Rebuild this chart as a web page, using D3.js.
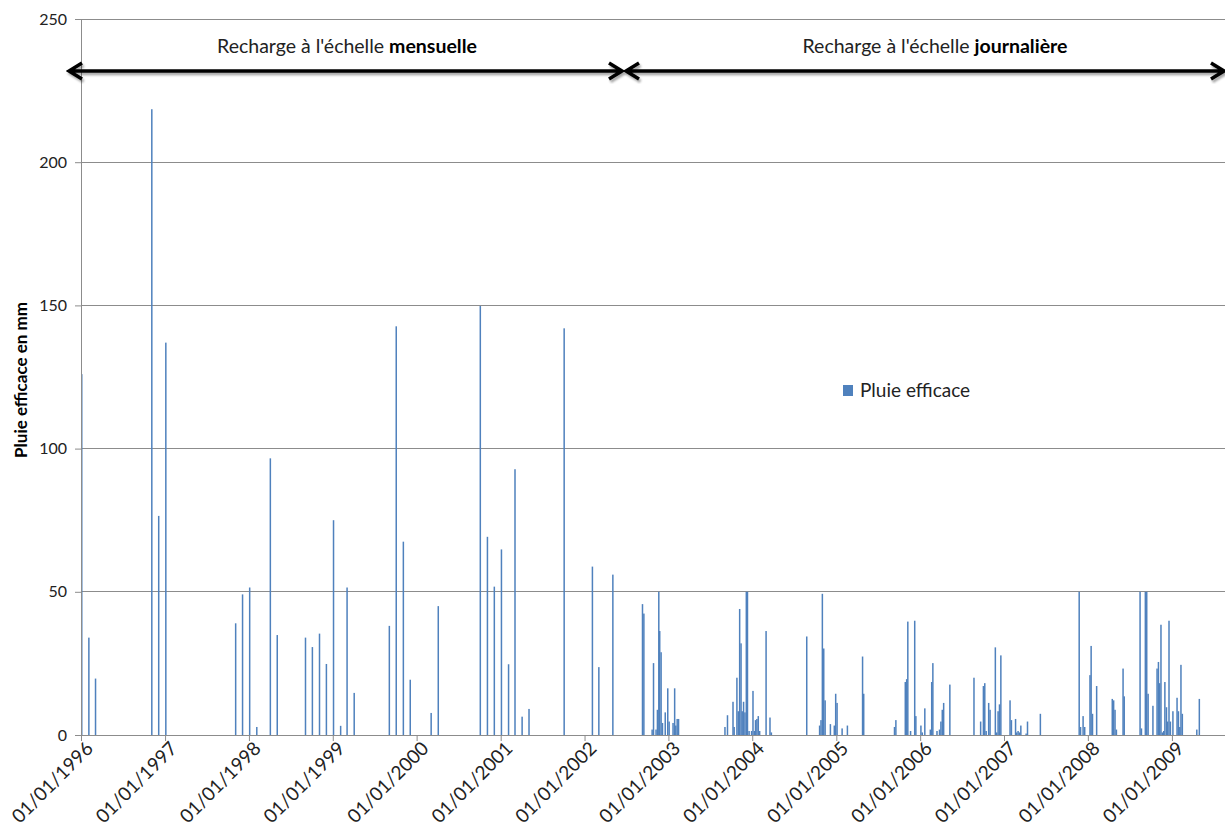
<!DOCTYPE html>
<html><head><meta charset="utf-8">
<script src="https://cdn.jsdelivr.net/npm/d3@7/dist/d3.min.js"></script>
<style>
html,body{margin:0;padding:0;background:#fff;}
svg{display:block;font-family:Lato,"Open Sans",sans-serif;}
</style></head><body>
<svg id="chart" width="1225" height="826"></svg>
<script>
// ---- DATA ----
const monthlyDates = ["1996-01-01","1996-02-01","1996-03-01","1996-11-01","1996-12-01","1997-01-01",
  "1997-11-01","1997-12-01","1998-01-01","1998-02-01","1998-04-01","1998-05-01",
  "1998-09-01","1998-10-01","1998-11-01","1998-12-01","1999-01-01","1999-02-01","1999-03-01","1999-04-01",
  "1999-09-01","1999-10-01","1999-11-01","1999-12-01","2000-03-01","2000-04-01",
  "2000-10-01","2000-11-01","2000-12-01","2001-01-01","2001-02-01","2001-03-01","2001-04-01","2001-05-01",
  "2001-10-01","2002-02-01","2002-03-01","2002-05-01"];
const monthlyValues = [126,34,19.7,218.5,76.5,137,
  39,49.1,51.5,2.8,96.6,34.9,
  34,30.7,35.4,24.8,75,3.2,51.5,14.7,
  38.1,142.7,67.5,19.3,7.7,45,
  149.8,69.2,51.8,64.8,24.7,92.8,6.4,9.1,
  142,58.8,23.7,56];

const dailyDates = [
  "2002-09-07","2002-09-13","2002-10-19","2002-10-25","2002-11-05","2002-11-11","2002-11-17","2002-11-21","2002-11-27","2002-12-03","2002-12-15","2002-12-26","2003-01-01","2003-01-18","2003-01-25","2003-01-30","2003-02-05","2003-02-11",
  "2003-09-01","2003-09-12","2003-10-06","2003-10-11","2003-10-23","2003-10-29","2003-11-04","2003-11-10","2003-11-15","2003-11-21","2003-11-27","2003-12-03","2003-12-08","2003-12-15","2003-12-26","2004-01-01","2004-01-07","2004-01-12","2004-01-18","2004-01-24","2004-01-30","2004-02-27","2004-03-15","2004-03-21",
  "2004-08-22","2004-10-17","2004-10-23","2004-10-29","2004-11-04","2004-11-10","2004-12-03","2004-12-20","2004-12-26","2005-01-01","2005-01-23","2005-02-15","2005-04-22","2005-04-27",
  "2005-09-08","2005-09-14","2005-10-25","2005-10-31","2005-11-05","2005-11-17","2005-12-05","2005-12-10","2006-01-01","2006-01-07","2006-01-18","2006-02-11","2006-02-17","2006-02-22","2006-03-12","2006-03-23","2006-03-29","2006-04-04","2006-04-10","2006-05-07",
  "2006-08-20","2006-09-18","2006-09-30","2006-10-06","2006-10-12","2006-10-23","2006-10-29","2006-11-21","2006-11-27","2006-12-03","2006-12-09","2006-12-15","2007-01-24","2007-01-30","2007-02-17","2007-02-22","2007-02-28","2007-03-06","2007-03-12","2007-04-04","2007-04-10","2007-06-05",
  "2007-11-21","2007-11-27","2007-12-08","2007-12-15","2008-01-07","2008-01-12","2008-01-18","2008-02-05","2008-04-13","2008-04-19","2008-04-25","2008-05-01","2008-05-30","2008-06-04","2008-08-12","2008-08-18","2008-09-04","2008-09-10","2008-09-16",
  "2008-10-07","2008-10-25","2008-10-31","2008-11-05","2008-11-11","2008-11-17","2008-11-23","2008-11-28","2008-12-05","2008-12-10","2008-12-16","2008-12-22","2009-01-02","2009-01-20","2009-01-26","2009-02-01","2009-02-06","2009-02-12","2009-04-16","2009-04-27"];
const dailyValues = [
  45.7,42.4,1.9,25.1,1.9,8.8,50,36.3,28.9,4.2,7.9,16.3,4.7,4.2,16.3,3.3,5.6,5.6,
  2.8,6.9,11.6,2.8,20,8.3,44,32,8.3,11.6,7.9,50,50,1.4,1.4,15.4,1.4,5.2,5.6,6.6,1.4,36.3,6.1,0.9,
  34.4,3.3,5.2,49.3,30.2,12.1,3.8,3.3,14.4,11.2,2.3,3.3,27.4,14.4,
  2.8,5.2,18.5,19.5,39.6,1.4,39.9,6.6,3.3,0.9,9.3,1.9,18.5,25.1,1.4,1.9,4.7,8.8,11.2,17.6,
  20,4.7,17.1,18.1,1.4,11.2,8.8,30.6,0.9,8.3,10.7,27.8,12.1,5.2,5.6,0.9,1.4,0.9,3.3,0.5,4.7,7.4,
  50,2.8,6.6,2.8,20.9,31.1,7.4,17.1,12.6,12.1,8.8,1.9,23.2,13.5,50,2.3,50,50,14.4,
  10.2,23.2,25.5,18.1,38.5,0.9,1.4,18.5,9.7,4.7,39.9,4.7,8.3,13,8.3,2.8,24.5,7.4,1.9,12.6];

const yTicks = [0,50,100,150,200,250];
const xTickYears = [1996,1997,1998,1999,2000,2001,2002,2003,2004,2005,2006,2007,2008,2009];
const seriesName = "Pluie efficace";
const yTitle = "Pluie efficace en mm";
const periods = [
  {start:"1996-01-01", end:"2002-07-01", label:"Recharge à l'échelle ", bold:"mensuelle"},
  {start:"2002-07-01", end:"2009-08-20", label:"Recharge à l'échelle ", bold:"journalière"}
];

// ---- CHART ----
const parse = d3.utcParse("%Y-%m-%d");
const fmt = d3.utcFormat("%d/%m/%Y");
const svg = d3.select("#chart");
const L = 81, R = 1225, T = 19, B = 735;
const x = d3.scaleUtc().domain([parse("1996-01-01"), parse("2009-08-20")]).range([L, R]);
const y = d3.scaleLinear().domain([0, 250]).range([B, T]);
const gridColor = "#8c8c8c";
const barColor = "#4F81BD";

// gridlines
svg.append("g").selectAll("line").data(yTicks.filter(d => d > 0)).join("line")
  .attr("x1", L).attr("x2", R).attr("y1", d => y(d)).attr("y2", d => y(d))
  .attr("stroke", gridColor).attr("stroke-width", 1).attr("shape-rendering","crispEdges");

// bars
const allBars = monthlyDates.map((d,i)=>({date:parse(d), v:monthlyValues[i]}))
  .concat(dailyDates.map((d,i)=>({date:parse(d), v:dailyValues[i]})));
svg.append("g").selectAll("rect").data(allBars).join("rect")
  .attr("x", d => x(d.date))
  .attr("width", 1.5)
  .attr("y", d => y(d.v))
  .attr("height", d => y(0) - y(d.v))
  .attr("fill", barColor);

// y axis
const yAxis = d3.axisLeft(y).tickValues(yTicks).tickSize(6).tickPadding(8);
const gy = svg.append("g").attr("transform", `translate(${L},0)`).call(yAxis);
gy.select(".domain").attr("stroke", gridColor);
gy.selectAll(".tick line").attr("stroke", gridColor);
gy.selectAll(".tick text").attr("font-size", 16).attr("fill", "#222")
  .attr("font-family","Lato, sans-serif");

// x axis
const xAxis = d3.axisBottom(x).tickValues(xTickYears.map(yv => parse(yv + "-01-01")))
  .tickFormat(fmt).tickSize(6).tickSizeOuter(0);
const gx = svg.append("g").attr("transform", `translate(0,${B})`).call(xAxis);
gx.select(".domain").attr("stroke", gridColor);
gx.selectAll(".tick line").attr("stroke", gridColor);
gx.selectAll(".tick text")
  .attr("font-size", 19).attr("fill", "#222").attr("font-family","Lato, sans-serif")
  .attr("text-anchor", "end")
  .attr("transform", "translate(8,10) rotate(-45)")
  .attr("dy", "0.35em").attr("y", 0).attr("x", 0);

// y title
svg.append("text")
  .attr("transform", `translate(27,${380}) rotate(-90)`)
  .attr("text-anchor", "middle")
  .attr("font-size", 17).attr("font-weight", "bold").attr("fill", "#000")
  .text(yTitle);

// period arrows
const ay = 71;
const defs = svg.append("defs");
defs.append("filter").attr("id","sh").append("feGaussianBlur").attr("stdDeviation",1.2);
function arrow(x1, x2){
  const g = svg.append("g");
  const path = `M${x1+13},${ay-8} L${x1},${ay} L${x1+13},${ay+8} M${x1},${ay} L${x2},${ay} M${x2-13},${ay-8} L${x2},${ay} L${x2-13},${ay+8}`;
  g.append("path").attr("d", path).attr("fill","none").attr("stroke","#000")
    .attr("stroke-opacity",0.35).attr("stroke-width",3.5).attr("filter","url(#sh)")
    .attr("transform","translate(1.5,2.5)");
  g.append("path").attr("d", path).attr("fill","none").attr("stroke","#000")
    .attr("stroke-width",3.5).attr("stroke-linejoin","miter").attr("stroke-linecap","butt");
}
const arrowX = [[69, 622], [626, 1224]];
periods.forEach((p,i) => {
  arrow(arrowX[i][0], arrowX[i][1]);
  const cx = i === 0 ? 347 : 935;
  const t = svg.append("text").attr("x", cx).attr("y", 53).attr("text-anchor","middle")
    .attr("font-size", 19.5).attr("fill", "#222");
  t.append("tspan").text(p.label);
  t.append("tspan").attr("font-weight","bold").attr("fill","#000").text(p.bold);
});

// legend
svg.append("rect").attr("x", 843).attr("y", 385).attr("width", 10).attr("height", 11).attr("fill", barColor);
svg.append("text").attr("x", 860).attr("y", 397).attr("font-size", 19).attr("fill","#222").text(seriesName);
</script>
</body></html>
